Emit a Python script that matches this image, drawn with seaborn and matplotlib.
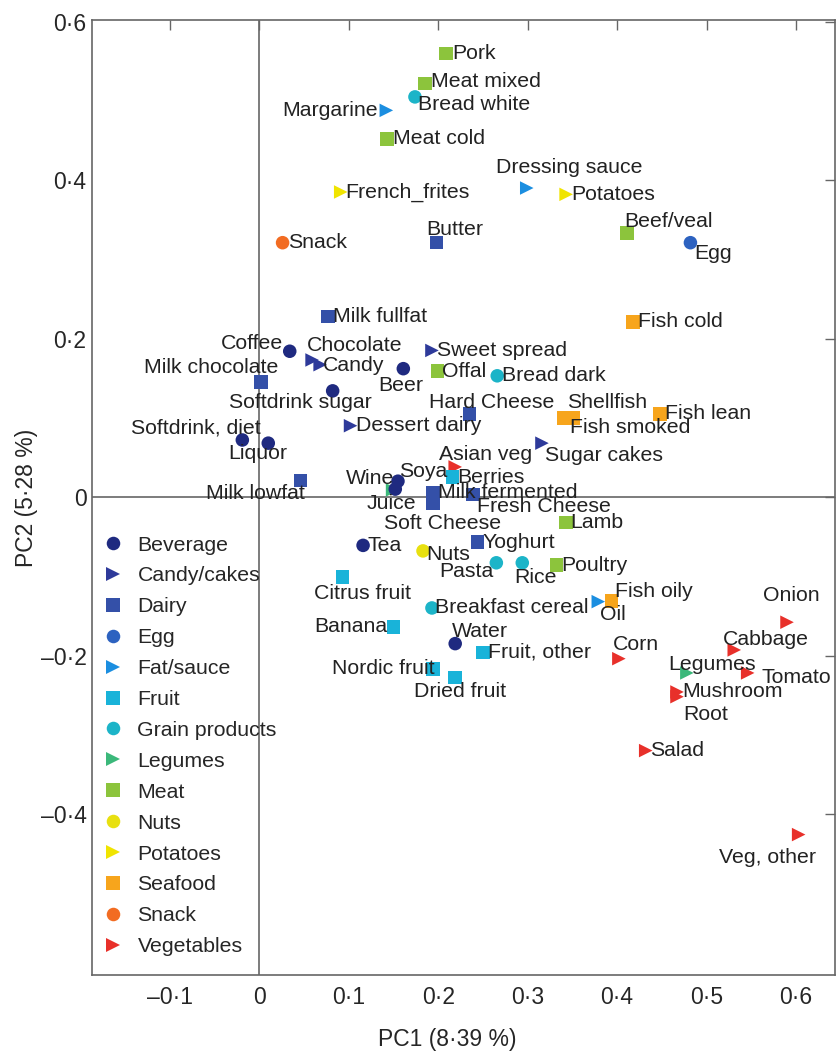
import pandas as pd
import matplotlib
matplotlib.use("Agg")
import matplotlib.pyplot as plt
import seaborn as sns

sns.set_style("white")
plt.rcParams['font.family'] = ['Liberation Sans', 'DejaVu Sans']

# data
foods = ['Pork', 'Meat mixed', 'Bread white', 'Margarine', 'Meat cold', 'Dressing sauce',
         'French_frites', 'Potatoes', 'Beef/veal', 'Egg', 'Snack', 'Butter', 'Milk fullfat',
         'Fish cold', 'Coffee', 'Chocolate', 'Candy', 'Milk chocolate', 'Sweet spread', 'Beer',
         'Offal', 'Bread dark', 'Softdrink sugar', 'Hard Cheese', 'Shellfish', 'Fish smoked',
         'Fish lean', 'Dessert dairy', 'Softdrink, diet', 'Liquor', 'Asian veg', 'Sugar cakes',
         'Wine', 'Soya', 'Berries', 'Milk lowfat', 'Milk fermented', 'Juice', 'Soft Cheese',
         'Fresh Cheese', 'Lamb', 'Tea', 'Nuts', 'Yoghurt', 'Pasta', 'Rice', 'Poultry',
         'Citrus fruit', 'Fish oily', 'Oil', 'Breakfast cereal', 'Banana', 'Onion', 'Water',
         'Fruit, other', 'Cabbage', 'Corn', 'Nordic fruit', 'Tomato', 'Legumes', 'Dried fruit',
         'Mushroom', 'Root', 'Salad', 'Veg, other']
groups = ['Meat', 'Meat', 'Grain products', 'Fat/sauce', 'Meat', 'Fat/sauce',
          'Potatoes', 'Potatoes', 'Meat', 'Egg', 'Snack', 'Dairy', 'Dairy',
          'Seafood', 'Beverage', 'Candy/cakes', 'Candy/cakes', 'Dairy', 'Candy/cakes', 'Beverage',
          'Meat', 'Grain products', 'Beverage', 'Dairy', 'Seafood', 'Seafood',
          'Seafood', 'Candy/cakes', 'Beverage', 'Beverage', 'Vegetables', 'Candy/cakes',
          'Beverage', 'Legumes', 'Fruit', 'Dairy', 'Dairy', 'Beverage', 'Dairy',
          'Dairy', 'Meat', 'Beverage', 'Nuts', 'Dairy', 'Grain products', 'Grain products', 'Meat',
          'Fruit', 'Seafood', 'Fat/sauce', 'Grain products', 'Fruit', 'Vegetables', 'Beverage',
          'Fruit', 'Vegetables', 'Vegetables', 'Fruit', 'Vegetables', 'Legumes', 'Fruit',
          'Vegetables', 'Vegetables', 'Vegetables', 'Vegetables']
pc1 = [0.209, 0.185, 0.174, 0.142, 0.143, 0.299,
       0.091, 0.343, 0.411, 0.482, 0.026, 0.198, 0.077,
       0.418, 0.034, 0.059, 0.068, 0.002, 0.193, 0.161,
       0.199, 0.266, 0.082, 0.235, 0.340, 0.351,
       0.448, 0.102, -0.019, 0.010, 0.219, 0.316,
       0.155, 0.149, 0.216, 0.046, 0.194, 0.152, 0.194,
       0.239, 0.343, 0.116, 0.183, 0.244, 0.265, 0.294, 0.332,
       0.093, 0.394, 0.379, 0.193, 0.150, 0.590, 0.219,
       0.250, 0.531, 0.402, 0.194, 0.546, 0.478, 0.219,
       0.467, 0.467, 0.432, 0.603]
pc2 = [0.560, 0.522, 0.505, 0.488, 0.452, 0.390,
       0.385, 0.382, 0.333, 0.321, 0.321, 0.321, 0.228,
       0.221, 0.184, 0.173, 0.167, 0.145, 0.185, 0.162,
       0.159, 0.153, 0.134, 0.105, 0.100, 0.100,
       0.105, 0.090, 0.072, 0.068, 0.038, 0.068,
       0.020, 0.009, 0.025, 0.021, 0.006, 0.010, -0.008,
       0.003, -0.032, -0.061, -0.068, -0.057, -0.083, -0.083, -0.086,
       -0.101, -0.131, -0.132, -0.140, -0.164, -0.158, -0.185,
       -0.196, -0.193, -0.204, -0.217, -0.222, -0.222, -0.228,
       -0.246, -0.252, -0.320, -0.426]

group_order = ['Beverage', 'Candy/cakes', 'Dairy', 'Egg', 'Fat/sauce', 'Fruit',
               'Grain products', 'Legumes', 'Meat', 'Nuts', 'Potatoes', 'Seafood',
               'Snack', 'Vegetables']
group_colors = ['#1f2a80', '#2e3a9a', '#3450a8', '#2d62c0', '#1b8ee0', '#19b3d9',
                '#1cb4c8', '#3bb87a', '#8cc43c', '#e8e010', '#f0e400', '#f7a51c',
                '#f26c22', '#e8302a']
group_markers = ['o', '>', 's', 'o', '>', 's', 'o', '>', 's', 'o', '>', 's', 'o', '>']

xticks = [-0.1, 0, 0.1, 0.2, 0.3, 0.4, 0.5, 0.6]
xticklabels = ['\u20130\u00b71', '0', '0\u00b71', '0\u00b72', '0\u00b73', '0\u00b74', '0\u00b75', '0\u00b76']
yticks = [-0.4, -0.2, 0, 0.2, 0.4, 0.6]
yticklabels = ['\u20130\u00b74', '\u20130\u00b72', '0', '0\u00b72', '0\u00b74', '0\u00b76']

# label placement: offset in pixels (dx, dy) and alignment
label_pos = {
    'Pork': (6, 0, 'left'), 'Meat mixed': (6, 2, 'left'), 'Bread white': (3, -8, 'left'),
    'Margarine': (-8, 0, 'right'), 'Meat cold': (6, 0, 'left'), 'Dressing sauce': (42, 21, 'center'),
    'French_frites': (5, 0, 'left'), 'Potatoes': (5, 0, 'left'), 'Beef/veal': (-3, 12, 'left'),
    'Egg': (4, -11, 'left'), 'Snack': (5, 0, 'left'), 'Butter': (-10, 13, 'left'),
    'Milk fullfat': (5, 0, 'left'), 'Fish cold': (5, 0, 'left'), 'Coffee': (-7, 8, 'right'),
    'Chocolate': (-5, 14, 'left'), 'Candy': (3, -1, 'left'), 'Milk chocolate': (17, 15, 'right'),
    'Sweet spread': (5, 0, 'left'), 'Beer': (-3, -17, 'center'), 'Offal': (5, 0, 'left'),
    'Bread dark': (5, 0, 'left'), 'Softdrink sugar': (-32, -12, 'center'),
    'Hard Cheese': (22, 11, 'center'), 'Shellfish': (4, 15, 'left'), 'Fish smoked': (-3, -10, 'left'),
    'Fish lean': (5, 0, 'left'), 'Dessert dairy': (5, 0, 'left'), 'Softdrink, diet': (18, 12, 'right'),
    'Liquor': (-11, -10, 'center'), 'Asian veg': (30, 12, 'center'), 'Sugar cakes': (3, -12, 'left'),
    'Wine': (-4, 3, 'right'), 'Soya': (6, 18, 'left'), 'Berries': (5, 0, 'left'),
    'Milk lowfat': (-45, -13, 'center'), 'Milk fermented': (5, 0, 'left'), 'Juice': (-4, -14, 'center'),
    'Soft Cheese': (10, -20, 'center'), 'Fresh Cheese': (4, -12, 'left'), 'Lamb': (4, 0, 'left'),
    'Tea': (4, 0, 'left'), 'Nuts': (3, -4, 'left'), 'Yoghurt': (5, 0, 'left'),
    'Pasta': (-3, -9, 'right'), 'Rice': (13, -15, 'center'), 'Poultry': (5, 0, 'left'),
    'Citrus fruit': (20, -16, 'center'), 'Fish oily': (3, 9, 'left'), 'Oil': (2, -13, 'left'),
    'Breakfast cereal': (3, 0, 'left'), 'Banana': (-6, 0, 'right'), 'Onion': (4, 27, 'center'),
    'Water': (-3, 12, 'left'), 'Fruit, other': (5, 0, 'left'), 'Cabbage': (-11, 10, 'left'),
    'Corn': (-6, 14, 'left'), 'Nordic fruit': (2, 0, 'right'), 'Tomato': (14, -5, 'left'),
    'Legumes': (-19, 8, 'left'), 'Dried fruit': (5, -14, 'center'), 'Mushroom': (5, 0, 'left'),
    'Root': (6, -18, 'left'), 'Salad': (4, 0, 'left'), 'Veg, other': (-31, -23, 'center'),
}

df = pd.DataFrame({'food': foods, 'group': groups, 'PC1': pc1, 'PC2': pc2})

fig = plt.figure(figsize=(8.37, 10.55), dpi=100)
ax = fig.add_axes([0.110, 0.076, 0.888, 0.905])

ax.axhline(0, color='#666666', lw=1.2, zorder=0)
ax.axvline(0, color='#666666', lw=1.2, zorder=0)

sns.scatterplot(
    data=df, x='PC1', y='PC2', hue='group', style='group',
    hue_order=group_order, style_order=group_order,
    palette=dict(zip(group_order, group_colors)),
    markers=dict(zip(group_order, group_markers)),
    s=95, linewidth=0, ax=ax, zorder=3
)

for f, x, y in zip(foods, pc1, pc2):
    dx, dy, ha = label_pos[f]
    ax.annotate(f, (x, y), xytext=(dx, dy), textcoords='offset pixels',
                ha=ha, va='center', fontsize=15.3, color='#222222', zorder=4)

ax.set_xlim(-0.187, 0.644)
ax.set_ylim(-0.603, 0.602)
ax.set_xticks(xticks)
ax.set_xticklabels(xticklabels)
ax.set_yticks(yticks)
ax.set_yticklabels(yticklabels)
ax.tick_params(direction='in', length=7, width=1, color='#666666', labelsize=16.5,
               top=True, right=True)
ax.tick_params(axis='x', pad=8)
ax.tick_params(axis='y', pad=4)
for sp in ax.spines.values():
    sp.set_color('#666666')
    sp.set_linewidth(1.2)

ax.set_xlabel('PC1 (8\u00b739 %)', fontsize=16.5)
ax.set_ylabel('PC2 (5\u00b728 %)', fontsize=16.5)
ax.xaxis.set_label_coords(0.478, -0.056)
ax.yaxis.set_label_coords(-0.073, 0.5)

handles, labels = ax.get_legend_handles_labels()
ax.legend(handles, labels, loc='upper left', bbox_to_anchor=(0.003, 0.469),
          frameon=False, fontsize=15.3, labelspacing=0.56, handlelength=1.0,
          handletextpad=0.63, markerscale=1.0, borderaxespad=0)

plt.savefig('out.png', dpi=100)
